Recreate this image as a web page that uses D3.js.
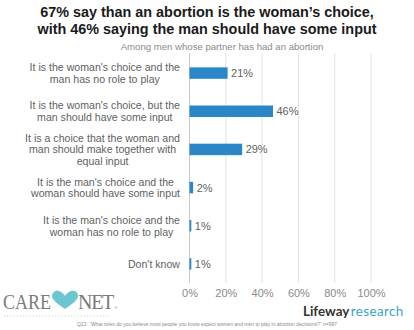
<!DOCTYPE html>
<html>
<head>
<meta charset="utf-8">
<script src="https://cdn.jsdelivr.net/npm/d3@7"></script>
<style>
  html, body { margin: 0; padding: 0; background: #fff; }
  svg { display: block; font-family: "Liberation Sans", Arial, sans-serif; }
</style>
</head>
<body>
<svg width="414" height="330"></svg>
<script>
'use strict';

var categories = [
    ["It is the woman's choice and the", 'man has no role to play'],
    ["It is the woman's choice, but the", 'man should have some input'],
    ['It is a choice that the woman and', 'man should make together with', 'equal input'],
    ["It is the man's choice and the", 'woman should have some input'],
    ["It is the man's choice and the", 'woman has no role to play'],
    ["Don't know"]
];
var values = [21, 46, 29, 2, 1, 1];
var ticks = [0, 20, 40, 60, 80, 100];

var svg = d3.select('svg');

var x = d3.scaleLinear().domain([0, 100]).range([189.5, 371]);
var y = d3.scaleBand()
    .domain(d3.range(categories.length))
    .range([54, 283])
    .paddingInner(0.7)
    .paddingOuter(0.35);

// title
svg.append('g').selectAll('text')
    .data(['67% say than an abortion is the woman\u2019s choice,',
           'with 46% saying the man should have some input'])
    .enter().append('text')
    .attr('x', 207)
    .attr('y', function(d, i) { return 17 + i * 16.5; })
    .attr('text-anchor', 'middle')
    .style('font-weight', 'bold')
    .style('font-size', '14.4px')
    .style('fill', '#1a1a1a')
    .text(function(d) { return d; });

svg.append('text')
    .attr('x', 222)
    .attr('y', 50)
    .attr('text-anchor', 'middle')
    .style('font-size', '9.6px')
    .style('fill', '#8a8a8a')
    .text('Among men whose partner has had an abortion');

// gridlines
svg.append('g').selectAll('line')
    .data(ticks.slice(1))
    .enter().append('line')
    .attr('x1', function(d) { return x(d); })
    .attr('x2', function(d) { return x(d); })
    .attr('y1', 53)
    .attr('y2', 283)
    .style('stroke', '#e2e2e2')
    .style('stroke-width', 1);

svg.append('line')
    .attr('x1', x(0)).attr('x2', x(0))
    .attr('y1', 53).attr('y2', 283)
    .style('stroke', '#c8c8c8');

// x axis labels
var xAxis = svg.append('g')
    .attr('transform', 'translate(0,286)')
    .call(d3.axisBottom(x).tickValues(ticks).tickSize(0).tickPadding(3)
        .tickFormat(function(d) { return d + '%'; }));
xAxis.select('.domain').remove();
xAxis.selectAll('text')
    .style('font-family', '"Liberation Sans", Arial, sans-serif')
    .style('font-size', '11px')
    .style('fill', '#8a8a8a');

var mid = y.bandwidth() / 2;

// bars
svg.append('g').selectAll('rect')
    .data(values)
    .enter().append('rect')
    .attr('x', x(0))
    .attr('y', function(d, i) { return y(i); })
    .attr('width', function(d) { return x(d) - x(0); })
    .attr('height', y.bandwidth())
    .style('fill', '#2a86c6');

svg.append('g').selectAll('text')
    .data(values)
    .enter().append('text')
    .attr('x', function(d) { return x(d) + 3.5; })
    .attr('y', function(d, i) { return y(i) + mid + 4; })
    .style('font-size', '11px')
    .style('fill', '#5f5f5f')
    .text(function(d) { return d + '%'; });

// category labels: lines centred inside a right-aligned block
var lineH = 11.6;
var labels = svg.append('g').selectAll('g')
    .data(categories)
    .enter().append('g');

labels.each(function(lines, i) {
    var g = d3.select(this);
    var texts = g.selectAll('text')
        .data(lines)
        .enter().append('text')
        .attr('y', function(d, j) {
            return y(i) + mid + 4 + (j - (lines.length - 1) / 2) * lineH;
        })
        .attr('text-anchor', 'middle')
        .style('font-size', '10.6px')
        .style('fill', '#5f5f5f')
        .text(function(d) { return d; });
    var w = d3.max(texts.nodes(), function(n) { return n.getComputedTextLength(); });
    texts.attr('x', 180 - w / 2);
});

// CARE NET logo
var care = svg.append('g');
care.append('text')
    .attr('x', 3).attr('y', 309)
    .attr('textLength', 48)
    .attr('lengthAdjust', 'spacingAndGlyphs')
    .style('font-family', '"Liberation Serif", "DejaVu Serif", serif')
    .style('font-size', '21px')
    .style('fill', '#7b7b7b')
    .text('CARE');
care.append('path')
    .attr('d', 'M65,309 C58,304 52,300 52,296 C52,292 56,290 59,291 C62,292 64,294 65,296 C66,294 68,292 71,291 C75,290 78,292 78,296 C78,300 72,304 65,309 Z')
    .style('fill', '#6cc6d1');
var net = care.append('text')
    .attr('x', 78).attr('y', 309)
    .style('font-family', '"Liberation Serif", "DejaVu Serif", serif')
    .style('fill', '#7b7b7b');
net.append('tspan')
    .style('font-size', '20px')
    .style('letter-spacing', '-1.3px')
    .text('NET');
net.append('tspan')
    .attr('dx', 1.5)
    .style('font-size', '4px')
    .style('font-family', '"Liberation Sans", Arial, sans-serif')
    .text('\u00ae');
care.append('line')
    .attr('x1', 4).attr('x2', 110)
    .attr('y1', 316).attr('y2', 316)
    .style('stroke', '#b5b5b5')
    .style('stroke-width', 0.8)
    .style('stroke-dasharray', '1,2.2');

// Lifeway research logo
var lw = svg.append('text')
    .attr('x', 303).attr('y', 316)
    .style('font-family', 'Lato, "Open Sans", sans-serif')
    .style('font-size', '13.4px');
lw.append('tspan')
    .style('font-weight', 'bold')
    .style('fill', '#333')
    .text('Lifeway');
lw.append('tspan')
    .attr('dx', 1.5)
    .style('fill', '#3aa2c8')
    .style('letter-spacing', '0.4px')
    .text('research');

// footnote
svg.append('text')
    .attr('x', 207).attr('y', 326)
    .attr('text-anchor', 'middle')
    .style('font-size', '5px')
    .style('fill', '#8a8a8a')
    .text('Q22: \u201cWhat roles do you believe most people you know expect women and men to play in abortion decisions?\u201d n=997');
</script>
</body>
</html>
